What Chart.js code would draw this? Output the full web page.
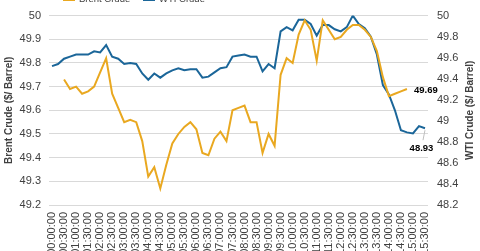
<!DOCTYPE html>
<html><head><meta charset="utf-8">
<script src="https://cdn.jsdelivr.net/npm/chart.js@4/dist/chart.umd.min.js"></script>
<style>html,body{margin:0;padding:0;background:#fff;overflow:hidden}#wrap{width:480px;height:251px;position:relative}</style>
</head><body><div id="wrap"><canvas id="c" width="480" height="251"></canvas></div>
<script>
const times = ["00:00:00","00:15:00","00:30:00","00:45:00","01:00:00","01:15:00","01:30:00","01:45:00",
"02:00:00","02:15:00","02:30:00","02:45:00","03:00:00","03:15:00","03:30:00","03:45:00",
"04:00:00","04:15:00","04:30:00","04:45:00","05:00:00","05:15:00","05:30:00","05:45:00",
"06:00:00","06:15:00","06:30:00","06:45:00","07:00:00","07:15:00","07:30:00","07:45:00",
"08:00:00","08:15:00","08:30:00","08:45:00","09:00:00","09:15:00","09:30:00","09:45:00",
"10:00:00","10:15:00","10:30:00","10:45:00","11:00:00","11:15:00","11:30:00","11:45:00",
"12:00:00","12:15:00","12:30:00","12:45:00","13:00:00","13:15:00","13:30:00","13:45:00",
"14:00:00","14:15:00","14:30:00","14:45:00","15:00:00","15:15:00","15:30:00"];

const brent = [null,null,49.73,49.69,49.70,49.67,49.68,49.70,49.76,49.82,
49.67,49.61,49.55,49.56,49.55,49.47,49.32,49.36,49.27,49.37,
49.46,49.50,49.53,49.55,49.52,49.42,49.41,49.48,49.51,49.47,
49.60,49.61,49.62,49.55,49.55,49.42,49.50,49.45,49.75,49.82,
49.80,49.92,49.98,49.94,49.81,49.98,49.94,49.90,49.91,49.94,
49.96,49.96,49.94,49.91,49.85,49.74,49.66,49.67,49.68,49.69,
null,null,null];

const wti = [49.52,49.54,49.59,49.61,49.63,49.63,49.63,49.66,49.65,49.72,
49.61,49.59,49.54,49.55,49.54,49.45,49.39,49.45,49.41,49.45,
49.48,49.50,49.48,49.49,49.49,49.41,49.42,49.46,49.50,49.51,
49.61,49.62,49.63,49.61,49.61,49.47,49.54,49.50,49.85,49.89,
49.86,49.96,49.96,49.92,49.81,49.91,49.91,49.87,49.85,49.89,
50.00,49.92,49.88,49.80,49.63,49.34,49.25,49.10,48.91,48.89,
48.88,48.95,48.93];

const brentAxis = {min:49.2, max:50, step:0.1};
const wtiAxis = {min:48.2, max:50, step:0.2};
const seriesNames = ["Brent Crude","WTI Crude"];
const axisTitles = ["Brent Crude ($/ Barrel)","WTI Crude ($/ Barrel)"];

const BRENT_COL = '#E9A820', WTI_COL = '#1B6699', TXT = '#404040';
const FONT = '"Liberation Sans", Arial, sans-serif';

function fmt(v){ return String(Number(Number(v).toFixed(2))); }

const extras = {
  id:'extras',
  afterDraw(chart){
    const ctx = chart.ctx;
    ctx.save();
    const items = [{x:63, col:BRENT_COL, text:seriesNames[0]},{x:143, col:WTI_COL, text:seriesNames[1]}];
    ctx.font = '9.5px ' + FONT;
    ctx.textBaseline = 'alphabetic';
    ctx.textAlign = 'left';
    items.forEach(it=>{
      ctx.strokeStyle = it.col; ctx.lineWidth = 2;
      ctx.beginPath(); ctx.moveTo(it.x, 0); ctx.lineTo(it.x+12, 0); ctx.stroke();
      ctx.fillStyle = TXT;
      ctx.fillText(it.text, it.x+16, 2);
    });
    const ca = chart.chartArea;
    ctx.translate(470, (ca.top+ca.bottom)/2);
    ctx.rotate(-Math.PI/2);
    ctx.font = 'bold 10px ' + FONT;
    ctx.textAlign = 'center'; ctx.textBaseline = 'middle';
    ctx.fillStyle = TXT;
    ctx.fillText(axisTitles[1], 0, 0);
    ctx.restore();
  },
  afterDatasetsDraw(chart){
    const ctx = chart.ctx;
    ctx.save();
    ctx.font = 'bold 9.5px ' + FONT;
    ctx.fillStyle = '#000';
    const bm = chart.getDatasetMeta(0);
    let bi = brent.length-1; while (brent[bi]==null) bi--;
    const bp = bm.data[bi];
    ctx.textAlign='left'; ctx.textBaseline='middle';
    ctx.fillText(fmt(brent[bi]), bp.x+7, bp.y+1);
    const wm = chart.getDatasetMeta(1);
    const wi = wti.length-1;
    const wp = wm.data[wi];
    ctx.strokeStyle = '#BFBFBF'; ctx.lineWidth = 1;
    ctx.beginPath(); ctx.moveTo(wp.x, wp.y+2); ctx.lineTo(wp.x-2, wp.y+12); ctx.stroke();
    ctx.textAlign='center'; ctx.textBaseline='middle';
    ctx.fillText(fmt(wti[wi]), wp.x-3.5, wp.y+20);
    ctx.restore();
  }
};

new Chart(document.getElementById('c'), {
  type:'line',
  data:{
    labels: times,
    datasets:[
      {label:seriesNames[0], data:brent, yAxisID:'y', borderColor:BRENT_COL, backgroundColor:BRENT_COL, borderWidth:2, pointRadius:0, tension:0, spanGaps:false},
      {label:seriesNames[1], data:wti, yAxisID:'y1', borderColor:WTI_COL, backgroundColor:WTI_COL, borderWidth:2, pointRadius:0, tension:0}
    ]
  },
  options:{
    responsive:false, animation:false, devicePixelRatio:1,
    layout:{padding:{top:11,left:0,right:0,bottom:0}},
    plugins:{legend:{display:false}, tooltip:{enabled:false}},
    scales:{
      x:{
        type:'category', offset:true,
        grid:{display:false, drawTicks:false, tickLength:0}, border:{display:false},
        ticks:{autoSkip:false, minRotation:90, maxRotation:90, padding:7, color:TXT,
          font:{family:FONT, size:11},
          callback:(v,i)=> i%2===0 ? times[i] : ''},
        afterFit:(s)=>{ s.height = 46; }
      },
      y:{
        position:'left', min:brentAxis.min, max:brentAxis.max,
        ticks:{stepSize:brentAxis.step, padding:8, color:TXT, font:{family:FONT,size:11}, callback:(v)=>fmt(v)},
        grid:{color:'#D9D9D9', lineWidth:1, drawTicks:false, tickLength:0},
        border:{display:false},
        title:{display:true, text:axisTitles[0], color:TXT, font:{family:FONT, size:10, weight:'bold'}, padding:{top:3,bottom:0}},
        afterFit:(s)=>{ s.width = 49; }
      },
      y1:{
        position:'right', min:wtiAxis.min, max:wtiAxis.max,
        ticks:{stepSize:wtiAxis.step, padding:9, color:TXT, font:{family:FONT,size:11}, callback:(v)=>fmt(v)},
        grid:{drawOnChartArea:false, drawTicks:false, tickLength:0},
        border:{display:false},
        afterFit:(s)=>{ s.width = 52; }
      }
    }
  },
  plugins:[extras]
});
</script></body></html>
